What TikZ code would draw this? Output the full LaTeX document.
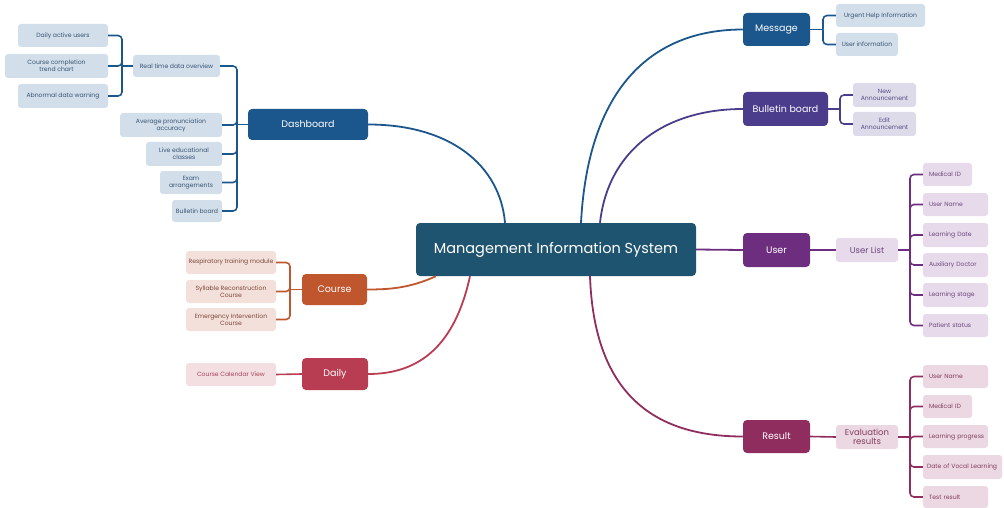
\documentclass[tikz,border=0pt]{standalone}
\usepackage{fontspec}
\setmainfont{Poppins}
\definecolor{cMIS}{RGB}{31,84,112}
\definecolor{cBlue}{RGB}{27,87,140}
\definecolor{cBul}{RGB}{76,61,140}
\definecolor{cUser}{RGB}{110,46,128}
\definecolor{cRes}{RGB}{143,45,94}
\definecolor{cCourse}{RGB}{192,86,45}
\definecolor{cDaily}{RGB}{184,61,82}
\definecolor{lBlue}{RGB}{210,223,234}
\definecolor{lBul}{RGB}{221,218,234}
\definecolor{lUser}{RGB}{230,218,235}
\definecolor{lRes}{RGB}{236,216,226}
\definecolor{lCourse}{RGB}{243,224,219}
\definecolor{lDaily}{RGB}{243,222,225}
\definecolor{tBlue}{RGB}{55,82,115}
\definecolor{tBul}{RGB}{85,75,130}
\definecolor{tUser}{RGB}{110,70,125}
\definecolor{tRes}{RGB}{130,60,95}
\definecolor{tCourse}{RGB}{125,70,55}
\definecolor{tDaily}{RGB}{165,70,90}
\tikzset{
  mainbox/.style={rounded corners=4pt, inner sep=1pt, align=center, text=white, font=\fontsize{9.5}{11}\selectfont},
  leaf/.style={rounded corners=3pt, inner sep=1pt, align=center, font=\fontsize{6.1}{7}\selectfont},
  lleaf/.style={leaf, align=left, inner xsep=6pt, text width=#1-12pt, minimum width=#1},
  conn/.style={line width=1.8pt},
  br/.style={line width=1.6pt, rounded corners=4pt},
}
\begin{document}
\begin{tikzpicture}[x=1pt,y=-1pt]
\useasboundingbox (0,0) rectangle (1004,508);
% central
\node[mainbox, fill=cMIS, minimum width=280pt, minimum height=53pt, font=\fontsize{14.5}{17}\selectfont] (mis) at (556,249.5) {Management Information System};
% main branches
\node[mainbox, fill=cBlue, minimum width=120pt, minimum height=31pt] (dash) at (308,124.5) {Dashboard};
\node[mainbox, fill=cCourse, minimum width=65pt, minimum height=31pt] (course) at (334.5,289.5) {Course};
\node[mainbox, fill=cDaily, minimum width=66pt, minimum height=32pt] (daily) at (335,374) {Daily};
\node[mainbox, fill=cBlue, minimum width=67pt, minimum height=33pt] (msg) at (776.5,29.5) {Message};
\node[mainbox, fill=cBul, minimum width=85pt, minimum height=34pt] (bul) at (785.5,109) {Bulletin board};
\node[mainbox, fill=cUser, minimum width=67pt, minimum height=34pt] (user) at (776.5,250) {User};
\node[mainbox, fill=cRes, minimum width=67pt, minimum height=33pt] (res) at (776.5,436.5) {Result};
% dashboard leaves
\begin{scope}[every node/.style={leaf, fill=lBlue, text=tBlue}]
\node[minimum width=87pt, minimum height=22pt] (rt) at (176.5,66) {Real time data overview};
\node[minimum width=90pt, minimum height=23pt] (dau) at (63,35.5) {Daily active users};
\node[minimum width=103pt, minimum height=24pt] (cct) at (56.5,66) {Course completion\\trend chart};
\node[minimum width=90pt, minimum height=24pt] (adw) at (63,96) {Abnormal data warning};
\node[minimum width=102pt, minimum height=24pt] (apa) at (171,125) {Average pronunciation\\accuracy};
\node[minimum width=76pt, minimum height=24pt] (lec) at (184,154) {Live educational\\classes};
\node[minimum width=62pt, minimum height=23pt] (exa) at (191,182.5) {Exam\\arrangements};
\node[minimum width=50pt, minimum height=22pt] (bbl) at (197,211) {Bulletin board};
\end{scope}
% course leaves
\begin{scope}[every node/.style={leaf, fill=lCourse, text=tCourse}]
\node[minimum width=90pt, minimum height=23pt] (rtm) at (231,262.5) {Respiratory training module};
\node[minimum width=90pt, minimum height=23pt] (src) at (231,291.5) {Syllable Reconstruction\\Course};
\node[minimum width=90pt, minimum height=23pt] (eic) at (231,319.5) {Emergency Intervention\\Course};
\end{scope}
\node[leaf, fill=lDaily, text=tDaily, minimum width=90pt, minimum height=23pt] (ccv) at (231,374.5) {Course Calendar View};
% message leaves
\begin{scope}[every node/.style={leaf, fill=lBlue, text=tBlue}]
\node[minimum width=89pt, minimum height=23pt] (uhi) at (880.5,15.5) {Urgent Help Information};
\node[minimum width=62pt, minimum height=23pt] (uin) at (867,44.5) {User information};
\end{scope}
% bulletin leaves
\begin{scope}[every node/.style={leaf, fill=lBul, text=tBul}]
\node[minimum width=63pt, minimum height=24pt] (nan) at (884.5,95) {New\\Announcement};
\node[minimum width=63pt, minimum height=24pt] (ean) at (884.5,124) {Edit\\Announcement};
\end{scope}
% user leaves
\node[leaf, fill=lUser, text=tUser, minimum width=62pt, minimum height=24pt, font=\fontsize{8.5}{10}\selectfont] (ul) at (867,250) {User List};
\begin{scope}[every node/.style={fill=lUser, text=tUser}]
\node[lleaf=49pt, minimum height=23pt] (u1) at (947.5,174.5) {Medical ID};
\node[lleaf=65pt, minimum height=23pt] (u2) at (955.5,204.5) {User Name};
\node[lleaf=65pt, minimum height=24pt] (u3) at (955.5,235) {Learning Date};
\node[lleaf=65pt, minimum height=24pt] (u4) at (955.5,265) {Auxiliary Doctor};
\node[lleaf=65pt, minimum height=24pt] (u5) at (955.5,295) {Learning stage};
\node[lleaf=65pt, minimum height=23pt] (u6) at (955.5,325.5) {Patient status};
\end{scope}
% result leaves
\node[leaf, fill=lRes, text=tRes, minimum width=62pt, minimum height=24pt, font=\fontsize{8.5}{9.5}\selectfont] (er) at (867,437) {Evaluation\\results};
\begin{scope}[every node/.style={fill=lRes, text=tRes}]
\node[lleaf=65pt, minimum height=23pt] (r1) at (955.5,376.5) {User Name};
\node[lleaf=49pt, minimum height=23pt] (r2) at (947.5,406.5) {Medical ID};
\node[lleaf=65pt, minimum height=23pt, inner xsep=1pt, text width=63pt] (r3) at (955.5,436.5) {\hspace{5pt}Learning progress};
\node[lleaf=79pt, minimum height=24pt, inner xsep=4pt, text width=71pt] (r4) at (962.5,467) {Date of Vocal Learning};
\node[lleaf=65pt, minimum height=22pt] (r5) at (955.5,497) {Test result};
\end{scope}
% main connectors
\draw[conn, cBlue] ([xshift=-51pt]mis.north) .. controls (500,165) and (450,124.5) .. (dash.east);
\draw[conn, cBlue] ([xshift=25pt]mis.north) .. controls (588,90) and (650,29.5) .. (msg.west);
\draw[conn, cBul] ([xshift=44pt]mis.north) .. controls (608,150) and (665,109) .. (bul.west);
\draw[conn, cUser] (mis.east) -- (user.west);
\draw[conn, cRes] ([xshift=34pt]mis.south) .. controls (594,390) and (650,436.5) .. (res.west);
\draw[conn, cCourse] ([xshift=-120pt]mis.south) .. controls (410,288) and (390,289.5) .. (course.east);
\draw[conn, cDaily] ([xshift=-86pt]mis.south) .. controls (455,345) and (420,374) .. (daily.east);
% dashboard bracket
\coordinate (dj) at (237,124.5);
\draw[br, cBlue] (dash.west) -- (dj);
\foreach \c in {rt,apa,lec,exa,bbl} \draw[br, cBlue] (dj) |- (\c.east);
\coordinate (rj) at (122,66);
\draw[br, cBlue] (rt.west) -- (rj);
\foreach \c in {dau,cct,adw} \draw[br, cBlue] (rj) |- (\c.east);
% course bracket
\coordinate (cj) at (290,289.5);
\draw[br, cCourse] (course.west) -- (cj);
\foreach \c in {rtm,src,eic} \draw[br, cCourse] (cj) |- (\c.east);
\draw[br, cDaily] (daily.west) -- (ccv.east);
% message bracket
\coordinate (mj) at (823,29.5);
\draw[br, cBlue] (msg.east) -- (mj);
\foreach \c in {uhi,uin} \draw[br, cBlue] (mj) |- (\c.west);
% bulletin bracket
\coordinate (bj) at (840,109);
\draw[br, cBul] (bul.east) -- (bj);
\foreach \c in {nan,ean} \draw[br, cBul] (bj) |- (\c.west);
% user bracket
\draw[br, cUser] (user.east) -- (ul.west);
\coordinate (uj) at (910,250);
\draw[br, cUser] (ul.east) -- (uj);
\foreach \c in {u1,u2,u3,u4,u5,u6} \draw[br, cUser] (uj) |- (\c.west);
% result bracket
\draw[br, cRes] (res.east) -- (er.west);
\coordinate (ej) at (910,437);
\draw[br, cRes] (er.east) -- (ej);
\foreach \c in {r1,r2,r3,r4,r5} \draw[br, cRes] (ej) |- (\c.west);
\end{tikzpicture}
\end{document}
